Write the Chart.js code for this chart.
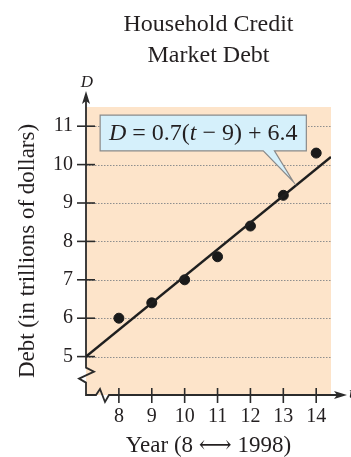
<!DOCTYPE html>
<html><head><meta charset="utf-8">
<script src="https://cdn.jsdelivr.net/npm/chart.js@4"></script>
<style>html,body{margin:0;padding:0;background:#fff}#wrap{width:351px;height:457px}</style>
</head><body><div id="wrap"><canvas id="c" width="351" height="457"></canvas></div>
<script>
const years = [8, 9, 10, 11, 12, 13, 14];
const debt = [6.0, 6.4, 7.0, 7.6, 8.4, 9.2, 10.3];
const fitYears = [7, 14.45];
const fitDebt = [5.0, 10.2];
const xTickValues = [8, 9, 10, 11, 12, 13, 14];
const yTickValues = [5, 6, 7, 8, 9, 10, 11];
const titleLines = ['Household Credit', 'Market Debt'];
const xTitle = 'Year (8 \u27F7 1998)';
const yTitle = 'Debt (in trillions of dollars)';
const equationParts = [['D', true], [' = 0.7(', false], ['t', true], [' \u2212 9) + 6.4', false]];

const SERIF = "'Liberation Serif', 'Times New Roman', 'DejaVu Serif', serif";
const INK = '#231f20';

const decor = {
  id: 'decor',
  beforeDraw(chart) {
    const {ctx, chartArea: a, scales: {y}} = chart;
    ctx.save();
    ctx.fillStyle = '#fde4ca';
    ctx.fillRect(a.left, a.top, a.right - a.left, a.bottom - a.top);
    ctx.strokeStyle = '#8e8e8e';
    ctx.lineWidth = 1;
    ctx.setLineDash([1.5, 1.5]);
    yTickValues.forEach(v => {
      const py = Math.round(y.getPixelForValue(v)) + 0.5;
      ctx.beginPath(); ctx.moveTo(a.left, py); ctx.lineTo(a.right, py); ctx.stroke();
    });
    ctx.restore();
  },
  beforeDatasetsDraw(chart) {
    const {ctx, chartArea: a, scales: {x, y}} = chart;
    const x0 = a.left, b = a.bottom;
    const y5 = y.getPixelForValue(yTickValues[0]);
    ctx.save();
    ctx.strokeStyle = '#2b2b2b';
    ctx.fillStyle = '#2b2b2b';
    ctx.lineWidth = 1.8;
    ctx.lineJoin = 'miter';
    ctx.beginPath();
    ctx.moveTo(x0, 100);
    ctx.lineTo(x0, y5 + 11);
    ctx.lineTo(x0 + 8, y5 + 15);
    ctx.lineTo(x0 - 7, y5 + 22);
    ctx.lineTo(x0, y5 + 26);
    ctx.lineTo(x0, b);
    ctx.lineTo(x0 + 10, b);
    ctx.lineTo(x0 + 14, b - 6);
    ctx.lineTo(x0 + 19, b + 7);
    ctx.lineTo(x0 + 23, b);
    ctx.lineTo(338, b);
    ctx.stroke();
    ctx.beginPath();
    ctx.moveTo(x0, 91); ctx.lineTo(x0 - 4, 104); ctx.lineTo(x0, 101); ctx.lineTo(x0 + 4, 104); ctx.closePath(); ctx.fill();
    ctx.beginPath();
    ctx.moveTo(347, b); ctx.lineTo(334, b - 4); ctx.lineTo(337, b); ctx.lineTo(334, b + 4); ctx.closePath(); ctx.fill();
    ctx.lineWidth = 1.6;
    yTickValues.forEach(v => {
      const py = y.getPixelForValue(v);
      ctx.beginPath(); ctx.moveTo(x0 - 9, py); ctx.lineTo(x0 + 9, py); ctx.stroke();
    });
    xTickValues.forEach(v => {
      const px = x.getPixelForValue(v);
      ctx.beginPath(); ctx.moveTo(px, b - 7); ctx.lineTo(px, b + 8); ctx.stroke();
    });
    ctx.fillStyle = INK;
    ctx.font = "italic 17px " + SERIF;
    ctx.textAlign = 'center';
    ctx.textBaseline = 'middle';
    ctx.fillText('D', x0 + 1, 83);
    ctx.textAlign = 'left';
    ctx.fillText('t', 349, b - 1);
    ctx.restore();
  },
  afterDatasetsDraw(chart) {
    const {ctx, scales: {x, y}} = chart;
    const bx0 = x.getPixelForValue(7.43), bx1 = x.getPixelForValue(13.7);
    const by0 = y.getPixelForValue(11.29), by1 = y.getPixelForValue(10.36);
    const p0 = x.getPixelForValue(12.39), p1 = x.getPixelForValue(12.73);
    const tx = x.getPixelForValue(13.31), ty = y.getPixelForValue(9.55);
    ctx.save();
    ctx.beginPath();
    ctx.moveTo(bx0, by0); ctx.lineTo(bx1, by0); ctx.lineTo(bx1, by1);
    ctx.lineTo(p1, by1); ctx.lineTo(tx, ty); ctx.lineTo(p0, by1);
    ctx.lineTo(bx0, by1); ctx.closePath();
    ctx.fillStyle = '#d5f0fb';
    ctx.fill();
    ctx.strokeStyle = '#8a8a8a';
    ctx.lineWidth = 1.2;
    ctx.stroke();
    ctx.fillStyle = INK;
    ctx.textBaseline = 'middle';
    ctx.textAlign = 'left';
    const fontFor = it => (it ? 'italic ' : '') + '24px ' + SERIF;
    let total = 0;
    equationParts.forEach(([s, it]) => { ctx.font = fontFor(it); total += ctx.measureText(s).width; });
    let cx = (bx0 + bx1) / 2 - total / 2;
    const cy = (by0 + by1) / 2 + 1;
    equationParts.forEach(([s, it]) => { ctx.font = fontFor(it); ctx.fillText(s, cx, cy); cx += ctx.measureText(s).width; });
    ctx.restore();
  }
};

new Chart(document.getElementById('c'), {
  type: 'scatter',
  data: {
    datasets: [
      {
        label: 'Fit',
        data: fitYears.map((t, i) => ({x: t, y: fitDebt[i]})),
        showLine: true,
        borderColor: '#1f1f1f',
        borderWidth: 2.6,
        pointRadius: 0,
        fill: false
      },
      {
        label: 'Debt',
        data: years.map((t, i) => ({x: t, y: debt[i]})),
        backgroundColor: '#1a1a1a',
        borderColor: '#1a1a1a',
        pointRadius: 5,
        pointHoverRadius: 5
      }
    ]
  },
  options: {
    responsive: false,
    animation: false,
    devicePixelRatio: 1,
    layout: {padding: {top: 0, right: 20, bottom: 0, left: 0}},
    plugins: {
      legend: {display: false},
      tooltip: {enabled: false},
      title: {
        display: true,
        text: titleLines,
        fullSize: false,
        color: INK,
        font: {family: SERIF, size: 24, weight: 'normal', lineHeight: 1.3},
        padding: {top: 9, bottom: 35.6}
      }
    },
    scales: {
      x: {
        type: 'linear',
        min: 7,
        max: 14.45,
        afterBuildTicks: s => { s.ticks = xTickValues.map(v => ({value: v})); },
        afterFit: s => { s.height = 62; },
        grid: {display: false, drawTicks: false},
        border: {display: false},
        ticks: {color: INK, font: {family: SERIF, size: 20}, padding: 10, maxRotation: 0, autoSkip: false},
        title: {display: true, text: xTitle, color: INK, font: {family: SERIF, size: 23, lineHeight: 1}, padding: {top: 0, bottom: 0}}
      },
      y: {
        type: 'linear',
        min: 4,
        max: 11.5,
        afterBuildTicks: s => { s.ticks = yTickValues.map(v => ({value: v})); },
        afterFit: s => { s.width = 86; },
        grid: {display: false, drawTicks: false},
        border: {display: false},
        ticks: {color: INK, font: {family: SERIF, size: 20}, padding: 13, autoSkip: false},
        title: {display: true, text: yTitle, color: INK, font: {family: SERIF, size: 23, lineHeight: 1.2}, padding: {top: 14, bottom: 0}}
      }
    }
  },
  plugins: [decor]
});
</script>
</body></html>
